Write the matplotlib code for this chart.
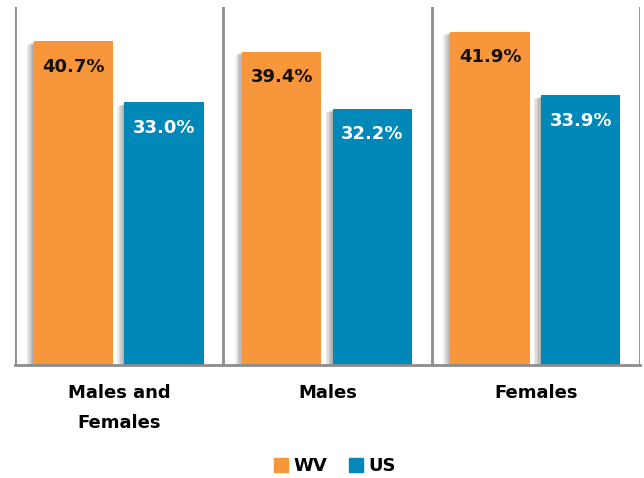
import matplotlib
matplotlib.use('Agg')
import matplotlib.pyplot as plt
import matplotlib.patheffects as pe
from matplotlib.patches import Patch
import numpy as np

categories = ['Males and\nFemales', 'Males', 'Females']
wv = [40.7, 39.4, 41.9]
us = [33.0, 32.2, 33.9]

orange = '#F7963A'
blue = '#0088B9'

fig = plt.figure(figsize=(6.44, 4.78), dpi=100)
ax = fig.add_axes([15/644, 1 - 365/478, 625/644, 358/478])

x = np.arange(len(categories))
w = 0.38
# soft shadow on the left of each bar
shadow = [pe.SimplePatchShadow(offset=(-k, -0.5 * k), shadow_rgbFace='k', alpha=0.07)
          for k in (5, 4, 3, 2, 1)] + [pe.Normal()]
ax.bar(x - 0.22, wv, w, color=orange, path_effects=shadow)
ax.bar(x + 0.215, us, w, color=blue, path_effects=shadow)

for xi, v in zip(x - 0.22, wv):
    ax.text(xi, v - 3.2, f'{v:.1f}%', ha='center', va='center',
            fontsize=13, fontweight='bold', color='#111111')
for xi, v in zip(x + 0.215, us):
    ax.text(xi, v - 3.2, f'{v:.1f}%', ha='center', va='center',
            fontsize=13, fontweight='bold', color='white')

# separators between groups
for sx in [-0.5, 0.5, 1.5, 2.5]:
    ax.axvline(sx, color='#8c8c8c', lw=2)

ax.set_xlim(-0.5, 2.5)
ax.set_ylim(0, 45)
ax.set_yticks([])
ax.set_xticks(x)
ax.set_xticklabels(categories, fontsize=13, fontweight='bold', linespacing=1.85)
ax.tick_params(axis='x', length=0, pad=14)
for s in ['top', 'left', 'right']:
    ax.spines[s].set_visible(False)
ax.spines['bottom'].set_color('#8c8c8c')
ax.spines['bottom'].set_linewidth(2)

handles = [Patch(color=orange), Patch(color=blue)]
fig.legend(handles=handles, labels=['WV', 'US'], loc='center',
           bbox_to_anchor=(335/644, 1 - 466/478), ncol=2, frameon=False,
           handlelength=0.8, handleheight=0.8, handletextpad=0.3,
           columnspacing=1.2, prop={'weight': 'bold', 'size': 13})

fig.savefig('out.png', dpi=100)
